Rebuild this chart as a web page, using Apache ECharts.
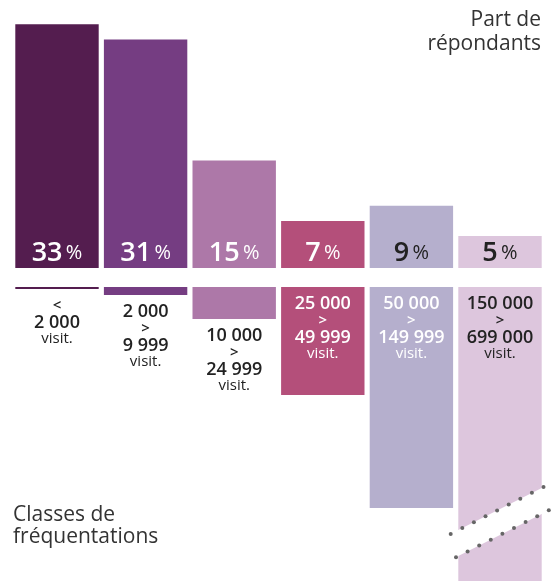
<!DOCTYPE html>
<html>
<head>
<meta charset="utf-8">
<script src="https://cdn.jsdelivr.net/npm/echarts@6/dist/echarts.min.js"></script>
<style>
  html, body { margin: 0; padding: 0; background: #fff; }
  #chart { width: 551px; height: 581px; }
</style>
</head>
<body>
<div id="chart"></div>
<script>
  // share of respondents per visitor class
  const classes = ['< 2 000', '2 000 > 9 999', '10 000 > 24 999', '25 000 > 49 999', '50 000 > 149 999', '150 000 > 699 000'];
  const shares = [33, 31, 15, 7, 9, 5];
  // depth of the lower bars (stylised class width, as drawn)
  const classDepth = [2, 8, 32, 108, 221, 294];
  const classLines = [
    ['<', '2 000'],
    ['2 000', '>', '9 999'],
    ['10 000', '>', '24 999'],
    ['25 000', '>', '49 999'],
    ['50 000', '>', '149 999'],
    ['150 000', '>', '699 000']
  ];

  const colors = ['#541d4f', '#753d82', '#ad78a8', '#b44f7a', '#b5afcd', '#ddc6dd'];
  const shareTextColors = ['#fff', '#fff', '#fff', '#fff', '#222', '#222'];
  const classTextColors = ['#222', '#222', '#222', '#fff', '#fff', '#222'];
  const insideLabel = [false, false, false, true, true, true];

  const FONT = '"Open Sans", "Noto Sans", sans-serif';

  const chart = echarts.init(document.getElementById('chart'), null, { renderer: 'canvas' });

  function classLabel(i) {
    const parts = classLines[i].map(t => (t === '<' || t === '>') ? '{s|' + t + '}' : '{n|' + t + '}');
    parts.push('{v|visit.}');
    return parts.join('\n');
  }

  const rich = (color) => ({
    n: { fontFamily: FONT, fontSize: 18, fontWeight: 600, color: color, lineHeight: 17 },
    s: { fontFamily: FONT, fontSize: 15, fontWeight: 600, color: color, lineHeight: 17 },
    v: { fontFamily: FONT, fontSize: 15, fontWeight: 400, color: color, lineHeight: 15 }
  });

  const option = {
    animation: false,
    grid: [
      { left: 12.7, width: 531.6, top: 24.3, height: 243.7 },
      { left: 12.7, width: 531.6, top: 287, height: 294 }
    ],
    xAxis: [
      { type: 'category', gridIndex: 0, data: classes, show: false },
      { type: 'category', gridIndex: 1, data: classes, show: false }
    ],
    yAxis: [
      { type: 'value', gridIndex: 0, min: 0.77, max: 33, show: false },
      { type: 'value', gridIndex: 1, min: 0, max: 294, inverse: true, show: false }
    ],
    series: [
      {
        type: 'bar',
        xAxisIndex: 0,
        yAxisIndex: 0,
        barWidth: 83.4,
        data: shares.map((v, i) => ({
          value: v,
          itemStyle: { color: colors[i] },
          label: {
            show: true,
            position: 'insideBottom',
            distance: 1,
            formatter: '{n|' + v + '} {p|%}',
            rich: {
              n: { fontFamily: FONT, fontSize: 27, fontWeight: 600, color: shareTextColors[i] },
              p: { fontFamily: FONT, fontSize: 20, fontWeight: 400, color: shareTextColors[i] }
            }
          }
        }))
      },
      {
        type: 'bar',
        xAxisIndex: 1,
        yAxisIndex: 1,
        barWidth: 83.4,
        data: classDepth.map((v, i) => ({
          value: v,
          itemStyle: { color: colors[i] },
          label: {
            show: true,
            position: insideLabel[i] ? 'insideTop' : 'bottom',
            distance: 8,
            align: 'center',
            formatter: classLabel(i),
            rich: rich(classTextColors[i])
          }
        }))
      }
    ],
    graphic: [
      {
        type: 'text', x: 541, y: 8.5, z: 100,
        style: {
          text: 'Part de\nrépondants', align: 'right',
          font: '21px ' + FONT, fill: '#333', lineHeight: 23.5
        }
      },
      {
        type: 'text', x: 13, y: 504, z: 100,
        style: {
          text: 'Classes de\nfréquentations', align: 'left',
          font: '21px ' + FONT, fill: '#333', lineHeight: 22
        }
      }
    ]
  };

  chart.setOption(option);

  // axis break on the last lower bar: white band between two dotted lines
  (function drawBreak() {
    const last = classes.length - 1;
    const c = chart.convertToPixel({ xAxisIndex: 1, yAxisIndex: 1 }, [last, 235]);
    const cx = c[0], cy = c[1];
    const half = 83.4 / 2;
    const slope = -0.506;
    const gap = 13;
    const yUp = x => cy - gap + slope * (x - cx);
    const yLo = x => cy + gap + slope * (x - cx);
    const els = [{
      type: 'polygon', z: 100,
      shape: { points: [
        [cx - half - 1, yUp(cx - half - 1)], [cx + half + 1, yUp(cx + half + 1)],
        [cx + half + 1, yLo(cx + half + 1)], [cx - half - 1, yLo(cx - half - 1)]
      ] },
      style: { fill: '#fff' }
    }];
    for (let k = 0; k < 9; k++) {
      const xu = cx - 49.3 + k * 11.6;
      const xl = cx - 44 + k * 11.6;
      els.push({ type: 'circle', z: 101, shape: { cx: xu, cy: yUp(xu), r: 2 }, style: { fill: '#666' } });
      els.push({ type: 'circle', z: 101, shape: { cx: xl, cy: yLo(xl), r: 2 }, style: { fill: '#666' } });
    }
    chart.setOption({ graphic: option.graphic.concat(els) });
  })();
</script>
</body>
</html>
